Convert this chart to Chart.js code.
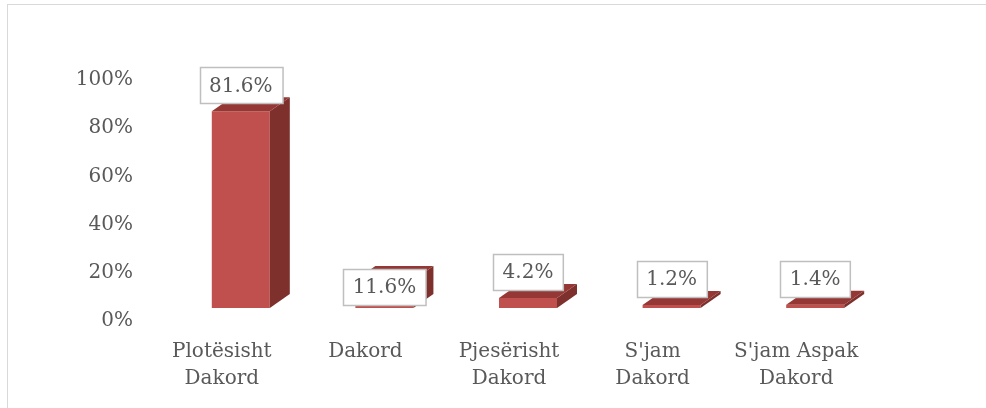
<!DOCTYPE html>
<html>
<head>
<meta charset="utf-8">
<script src="https://cdn.jsdelivr.net/npm/chart.js@4.4.1/dist/chart.umd.min.js"></script>
<style>
    html, body { margin: 0; padding: 0; background: #ffffff; overflow: hidden; }
    .wrap { position: relative; width: 986px; height: 408px; }
    .frame {
        position: absolute; left: 7px; top: 4px; width: 1200px; height: 600px;
        border-left: 1.5px solid #d9d9d9; border-top: 1.5px solid #d9d9d9;
    }
    canvas { position: absolute; left: 0; top: 0; }
</style>
</head>
<body>
<div class="wrap">
    <div class="frame"></div>
    <canvas id="chart" width="986" height="408"></canvas>
</div>
<script>
const categories = [
    ['Plotësisht', 'Dakord'],
    'Dakord',
    ['Pjesërisht', 'Dakord'],
    ["S'jam", 'Dakord'],
    ["S'jam Aspak", 'Dakord']
];
const values = [81.6, 11.6, 4.2, 1.2, 1.4];
const yTicks = [0, 20, 40, 60, 80, 100];

const FONT = "'DejaVu Serif', serif";
const TEXT = '#595959';

// fake 3D column: side + top faces next to the chart.js front face
const bar3d = {
    id: 'bar3d',
    afterDatasetsDraw(chart, args, opts) {
        const ctx = chart.ctx;
        const meta = chart.getDatasetMeta(0);
        const dx = opts.dx, dy = opts.dy;
        ctx.save();
        meta.data.forEach((bar, i) => {
            const left = bar.x - bar.width / 2;
            const right = bar.x + bar.width / 2;
            const top = bar.y;
            const base = bar.base;

            ctx.fillStyle = opts.sideColor;
            ctx.beginPath();
            ctx.moveTo(right, top);
            ctx.lineTo(right + dx, top + dy);
            ctx.lineTo(right + dx, base + dy);
            ctx.lineTo(right, base);
            ctx.closePath();
            ctx.fill();

            ctx.fillStyle = opts.topColor;
            ctx.beginPath();
            ctx.moveTo(left, top);
            ctx.lineTo(left + dx, top + dy);
            ctx.lineTo(right + dx, top + dy);
            ctx.lineTo(right, top);
            ctx.closePath();
            ctx.fill();

            // data label box
            const text = values[i].toFixed(1) + '%';
            ctx.font = '20px ' + FONT;
            const w = ctx.measureText(text).width + 19;
            const h = 36;
            const shift = opts.labelShift[i] || 0;
            const cy = top - 26 + shift;
            const bx = Math.round(bar.x - w / 2) + 0.5;
            const by = Math.round(cy - h / 2) + 0.5;
            ctx.fillStyle = '#ffffff';
            ctx.fillRect(bx, by, w, h);
            ctx.strokeStyle = '#bfbfbf';
            ctx.lineWidth = 1.5;
            ctx.strokeRect(bx, by, w, h);
            ctx.fillStyle = TEXT;
            ctx.textAlign = 'center';
            ctx.textBaseline = 'middle';
            ctx.fillText(text, bar.x, cy + 1);
        });
        ctx.restore();
    }
};

new Chart(document.getElementById('chart').getContext('2d'), {
    type: 'bar',
    data: {
        labels: categories,
        datasets: [{
            data: values,
            backgroundColor: '#c0504d',
            borderWidth: 0,
            barPercentage: 0.404,
            categoryPercentage: 1
        }]
    },
    plugins: [bar3d],
    options: {
        responsive: false,
        animation: false,
        devicePixelRatio: 1,
        layout: { padding: { top: 67, right: 99, left: 0, bottom: 0 } },
        scales: {
            x: {
                grid: { display: false, drawTicks: false },
                border: { display: false },
                ticks: {
                    color: TEXT,
                    font: { family: FONT, size: 20, lineHeight: 1.35 },
                    padding: 30,
                    labelOffset: -19,
                    maxRotation: 0,
                    autoSkip: false
                },
                afterFit: (scale) => { scale.height = 100; }
            },
            y: {
                min: 0,
                max: 100,
                afterBuildTicks: (scale) => { scale.ticks = yTicks.map(v => ({ value: v })); },
                grid: { display: false, drawTicks: false },
                border: { display: false },
                ticks: {
                    color: TEXT,
                    font: { family: FONT, size: 20 },
                    padding: 36,
                    labelOffset: 13,
                    callback: (v) => v + '%'
                },
                afterFit: (scale) => { scale.width = 169; }
            }
        },
        plugins: {
            legend: { display: false },
            tooltip: { enabled: false },
            bar3d: {
                dx: 20,
                dy: -14,
                sideColor: '#7e302d',
                topColor: '#953835',
                labelShift: { 1: 33 }
            }
        }
    }
});
</script>
</body>
</html>
